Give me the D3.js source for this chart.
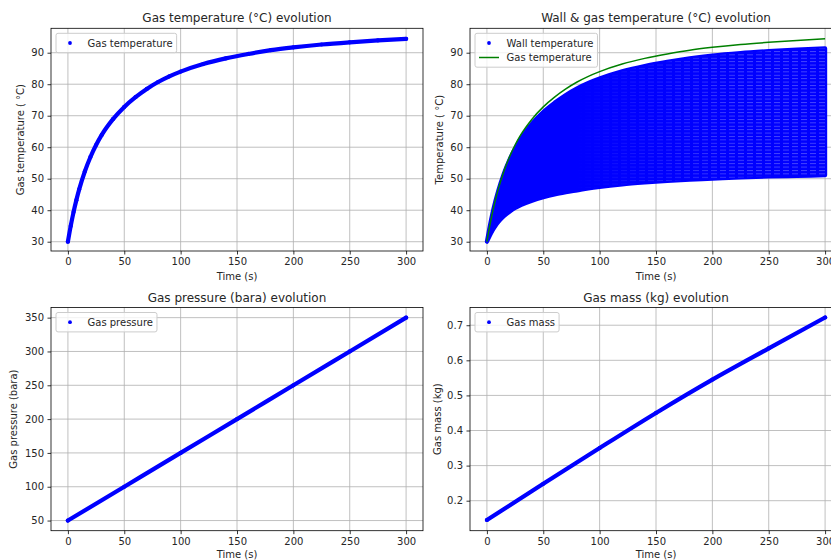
<!DOCTYPE html>
<html>
<head>
<meta charset="utf-8">
<script src="https://cdn.jsdelivr.net/npm/d3@7"></script>
<style>
  body { margin: 0; background: #fff; }
  text { font-family: "DejaVu Sans", sans-serif; fill: #262626; }
</style>
</head>
<body>
<svg id="fig"></svg>
<script>
// values
var time = [0, 2.5, 5, 7.5, 10, 15, 20, 25, 30, 40, 50, 60, 70, 80, 90, 100, 120, 140, 160, 180, 200, 225, 250, 275, 300];
var gasTemp = [30, 35.0, 39.4, 43.2, 46.6, 52.3, 56.9, 60.7, 63.9, 68.9, 72.8, 75.9, 78.5, 80.7, 82.5, 84.0, 86.4, 88.2, 89.6, 90.8, 91.7, 92.6, 93.3, 93.9, 94.4];
var wallInner = [30, 34.8, 39.1, 42.8, 46.1, 51.6, 56.0, 59.6, 62.7, 67.5, 71.2, 74.1, 76.6, 78.7, 80.4, 81.8, 84.1, 85.8, 87.1, 88.2, 89.1, 89.9, 90.5, 91.0, 91.4];
var wallOuter = [30, 31.9, 33.6, 35.0, 36.2, 38.1, 39.5, 40.7, 41.6, 43.0, 44.1, 45.0, 45.7, 46.3, 46.9, 47.4, 48.2, 48.8, 49.3, 49.7, 50.0, 50.4, 50.7, 50.9, 51.1];
var coarseTime = [0, 50, 100, 150, 200, 250, 300];
var gasPressure = [50, 100, 150, 200, 250, 300, 350];
var gasMass = [0.145, 0.248, 0.350, 0.450, 0.545, 0.634, 0.722];

var xTicks = [0, 50, 100, 150, 200, 250, 300];
var tempTicks = [30, 40, 50, 60, 70, 80, 90];
var pressureTicks = [50, 100, 150, 200, 250, 300, 350];
var massTicks = [0.2, 0.3, 0.4, 0.5, 0.6, 0.7];

var BLUE = "#0000ff", GREEN = "#008000";
var bandWidth = 4.2;

var svg = d3.select("#fig").attr("width", 831).attr("height", 560);
var defs = svg.append("defs");

var panelCount = 0;
function panel(p) {
  var id = panelCount++;
  var x = d3.scaleLinear().domain([-15, 315]).range([p.left, p.left + p.width]);
  var y = d3.scaleLinear().domain(p.yDomain).range([p.top + p.height, p.top]);
  var bottom = p.top + p.height;

  defs.append("clipPath").attr("id", "clip" + id)
    .append("rect")
    .attr("x", p.left).attr("y", p.top)
    .attr("width", p.width).attr("height", p.height);

  var grid = svg.append("g").attr("stroke", "#b0b0b0").attr("stroke-width", 0.8);
  grid.selectAll(".gx").data(xTicks).join("line")
    .attr("x1", function(d) { return x(d); }).attr("x2", function(d) { return x(d); })
    .attr("y1", p.top).attr("y2", bottom);
  grid.selectAll(".gy").data(p.yTicks).join("line")
    .attr("y1", function(d) { return y(d); }).attr("y2", function(d) { return y(d); })
    .attr("x1", p.left).attr("x2", p.left + p.width);

  var plot = svg.append("g").attr("clip-path", "url(#clip" + id + ")");

  var xAxis = svg.append("g")
    .attr("transform", "translate(0," + bottom + ")")
    .call(d3.axisBottom(x).tickValues(xTicks).tickFormat(d3.format("d"))
      .tickSize(3.5).tickPadding(3.5).tickSizeOuter(0));
  var yAxis = svg.append("g")
    .attr("transform", "translate(" + p.left + ",0)")
    .call(d3.axisLeft(y).tickValues(p.yTicks).tickFormat(d3.format(p.yFormat))
      .tickSize(3.5).tickPadding(3.5).tickSizeOuter(0));
  [xAxis, yAxis].forEach(function(a) {
    a.select(".domain").remove();
    a.selectAll("line").attr("stroke", "#000").attr("stroke-width", 0.8);
    a.selectAll("text").attr("font-size", 10).attr("font-family", null).attr("fill", null);
  });

  svg.append("rect")
    .attr("x", p.left).attr("y", p.top)
    .attr("width", p.width).attr("height", p.height)
    .attr("fill", "none").attr("stroke", "#000").attr("stroke-width", 0.8);

  svg.append("text")
    .attr("x", p.left + p.width / 2).attr("y", p.top - 6)
    .attr("text-anchor", "middle").attr("font-size", 12)
    .text(p.title);
  svg.append("text")
    .attr("x", p.left + p.width / 2).attr("y", bottom + p.xlabelDy)
    .attr("text-anchor", "middle").attr("font-size", 10)
    .text("Time (s)");
  svg.append("text")
    .attr("transform", "translate(" + p.ylabelX + "," + (p.top + p.height / 2) + ") rotate(-90)")
    .attr("dy", "0.35em")
    .attr("text-anchor", "middle").attr("font-size", 10)
    .text(p.ylabel);

  return { x: x, y: y, plot: plot, left: p.left, top: p.top, width: p.width, height: p.height };
}

function legend(ax, items) {
  var g = svg.append("g");
  var bx = ax.left + 5, by = ax.top + 5;
  var box = g.append("rect")
    .attr("x", bx).attr("y", by).attr("rx", 2)
    .attr("height", 19.4 + (items.length - 1) * 14.5)
    .attr("fill", "#fff").attr("fill-opacity", 0.8)
    .attr("stroke", "#cccccc").attr("stroke-width", 1);
  var maxLen = 0;
  items.forEach(function(it, i) {
    var cy = by + 9.7 + i * 14.5;
    if (it.type === "dot") {
      g.append("circle").attr("cx", bx + 14).attr("cy", cy).attr("r", 1.9).attr("fill", it.color);
    } else {
      g.append("line").attr("x1", bx + 4).attr("x2", bx + 24).attr("y1", cy).attr("y2", cy)
        .attr("stroke", it.color).attr("stroke-width", 1.5);
    }
    var t = g.append("text").attr("x", bx + 31.5).attr("y", cy).attr("dy", "0.35em")
      .attr("font-size", 10).text(it.label);
    maxLen = Math.max(maxLen, t.node().getComputedTextLength());
  });
  box.attr("width", 31.5 + maxLen + 4);
}

function dotSeries(ax, xs, ys) {
  var pts = xs.map(function(d, i) { return [d, ys[i]]; });
  var line = d3.line()
    .x(function(d) { return ax.x(d[0]); })
    .y(function(d) { return ax.y(d[1]); })
    .curve(d3.curveMonotoneX);
  ax.plot.append("path").datum(pts)
    .attr("d", line).attr("fill", "none")
    .attr("stroke", BLUE).attr("stroke-width", bandWidth)
    .attr("stroke-linecap", "round").attr("stroke-linejoin", "round");
  ax.plot.selectAll(null).data(pts).join("circle")
    .attr("cx", function(d) { return ax.x(d[0]); })
    .attr("cy", function(d) { return ax.y(d[1]); })
    .attr("r", bandWidth / 2).attr("fill", BLUE);
}

// panel 1: gas temperature
var a1 = panel({ left: 51, top: 28.3, width: 372, height: 222.7, yDomain: [27.05, 97.75],
  yTicks: tempTicks, yFormat: "d", title: "Gas temperature (°C) evolution",
  ylabel: "Gas temperature ( °C)", ylabelX: 20, xlabelDy: 28.5 });
dotSeries(a1, time, gasTemp);
legend(a1, [{ type: "dot", color: BLUE, label: "Gas temperature" }]);

// panel 2: wall and gas temperature
var a2 = panel({ left: 470, top: 28.3, width: 372, height: 222.7, yDomain: [27.05, 97.75],
  yTicks: tempTicks, yFormat: "d", title: "Wall & gas temperature (°C) evolution",
  ylabel: "Temperature ( °C)", ylabelX: 439, xlabelDy: 28.5 });
var wallBand = time.map(function(t, i) { return { t: t, lo: wallOuter[i], hi: wallInner[i] }; });
var wallArea = d3.area()
  .x(function(d) { return a2.x(d.t); })
  .y0(function(d) { return a2.y(d.lo); })
  .y1(function(d) { return a2.y(d.hi); })
  .curve(d3.curveMonotoneX);
a2.plot.append("path").datum(wallBand)
  .attr("d", wallArea).attr("fill", BLUE)
  .attr("stroke", BLUE).attr("stroke-width", bandWidth).attr("stroke-linejoin", "round");

// light striations between the wall node rows, fading in at late times
var pat = defs.append("pattern").attr("id", "rows").attr("patternUnits", "userSpaceOnUse")
  .attr("width", 9).attr("height", 3.4);
pat.append("line").attr("x1", 0).attr("x2", 6).attr("y1", 0.5).attr("y2", 0.5)
  .attr("stroke", "#fff").attr("stroke-opacity", 0.4).attr("stroke-width", 0.7);
var grad = defs.append("linearGradient").attr("id", "fade")
  .attr("gradientUnits", "userSpaceOnUse")
  .attr("x1", a2.x(80)).attr("x2", a2.x(230)).attr("y1", 0).attr("y2", 0);
grad.append("stop").attr("offset", 0).attr("stop-color", "#fff").attr("stop-opacity", 0);
grad.append("stop").attr("offset", 1).attr("stop-color", "#fff").attr("stop-opacity", 1);
defs.append("mask").attr("id", "fadeMask")
  .append("rect").attr("x", a2.left).attr("y", a2.top)
  .attr("width", a2.width).attr("height", a2.height).attr("fill", "url(#fade)");
a2.plot.append("path").datum(wallBand)
  .attr("d", wallArea).attr("fill", "url(#rows)").attr("mask", "url(#fadeMask)");

var gasLine = d3.line()
  .x(function(d, i) { return a2.x(time[i]); })
  .y(function(d) { return a2.y(d); })
  .curve(d3.curveMonotoneX);
a2.plot.append("path").datum(gasTemp)
  .attr("d", gasLine).attr("fill", "none")
  .attr("stroke", GREEN).attr("stroke-width", 1.5);
legend(a2, [{ type: "dot", color: BLUE, label: "Wall temperature" },
            { type: "line", color: GREEN, label: "Gas temperature" }]);

// panel 3: gas pressure
var a3 = panel({ left: 51, top: 307.5, width: 372, height: 223.2, yDomain: [35, 365],
  yTicks: pressureTicks, yFormat: "d", title: "Gas pressure (bara) evolution",
  ylabel: "Gas pressure (bara)", ylabelX: 13.5, xlabelDy: 27 });
dotSeries(a3, coarseTime, gasPressure);
legend(a3, [{ type: "dot", color: BLUE, label: "Gas pressure" }]);

// panel 4: gas mass
var a4 = panel({ left: 470, top: 307.5, width: 372, height: 223.2, yDomain: [0.1145, 0.7505],
  yTicks: massTicks, yFormat: ".1f", title: "Gas mass (kg) evolution",
  ylabel: "Gas mass (kg)", ylabelX: 437.5, xlabelDy: 27 });
dotSeries(a4, coarseTime, gasMass);
legend(a4, [{ type: "dot", color: BLUE, label: "Gas mass" }]);
</script>
</body>
</html>
